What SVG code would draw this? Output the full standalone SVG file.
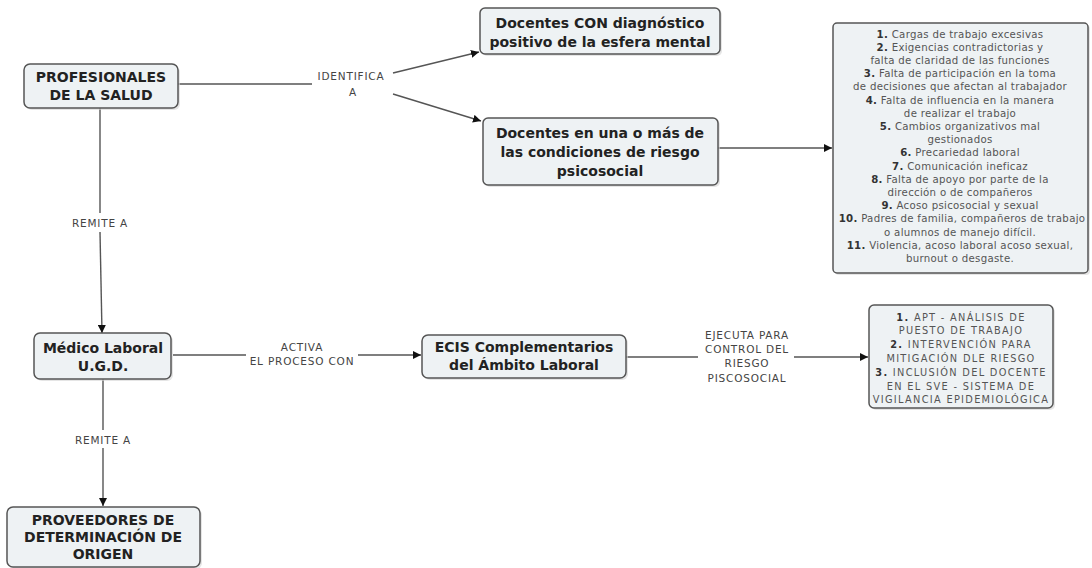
<svg xmlns="http://www.w3.org/2000/svg" width="1092" height="568" viewBox="0 0 1092 568">
<defs>
<style>
.box{fill:#eef2f4;stroke:#555;stroke-width:1.5}
.sh{fill:#d4d4d4;opacity:.6}
.nt{font-family:"DejaVu Sans",Verdana,sans-serif;font-weight:bold;font-size:14px;fill:#222;text-anchor:middle}
.lb{font-family:"DejaVu Sans",Verdana,sans-serif;font-size:10.5px;fill:#444;text-anchor:middle;letter-spacing:0.8px}
.ls{font-family:"DejaVu Sans",Verdana,sans-serif;font-size:10.2px;fill:#555;text-anchor:middle;letter-spacing:0.3px}
.ap{font-family:"DejaVu Sans",Verdana,sans-serif;font-size:9.8px;fill:#555;text-anchor:middle;letter-spacing:1.3px}
.b{font-weight:bold;fill:#333}
.ln{fill:none;stroke:#555;stroke-width:1.4}
</style>
<marker id="ar" viewBox="0 0 10 10" refX="10" refY="5" markerWidth="8" markerHeight="8" markerUnits="userSpaceOnUse" orient="auto">
<path d="M0,0 L10,5 L0,10 z" fill="#111"/>
</marker>
</defs>
<rect width="1092" height="568" fill="#fff"/>

<g id="connectors">
<path class="ln" d="M178,84 L312,84"/>
<path class="ln" d="M393,73 L479,52" marker-end="url(#ar)"/>
<path class="ln" d="M393,94 L481,121" marker-end="url(#ar)"/>
<path class="ln" d="M100,108 L100,213"/>
<path class="ln" d="M100,232 L102,333" marker-end="url(#ar)"/>
<path class="ln" d="M173,355 L246,355"/>
<path class="ln" d="M358,355 L421,355" marker-end="url(#ar)"/>
<path class="ln" d="M626,357 L698,357"/>
<path class="ln" d="M794,357 L868,357" marker-end="url(#ar)"/>
<path class="ln" d="M718,148 L832,148" marker-end="url(#ar)"/>
<path class="ln" d="M103,379 L103,430"/>
<path class="ln" d="M103,448 L103,506" marker-end="url(#ar)"/>
<text class="lb" x="351" y="80">IDENTIFICA</text>
<text class="lb" x="353" y="96">A</text>
<text class="lb" x="100" y="227">REMITE A</text>
<text class="lb" x="302" y="351">ACTIVA</text>
<text class="lb" x="302" y="365">EL PROCESO CON</text>
<text class="lb" x="747" y="339">EJECUTA PARA</text>
<text class="lb" x="747" y="353">CONTROL DEL</text>
<text class="lb" x="747" y="367">RIESGO</text>
<text class="lb" x="747" y="382">PISCOSOCIAL</text>
<text class="lb" x="103" y="444">REMITE A</text>
</g>

<g id="n-profesionales">
<rect class="sh" x="26" y="66" width="154" height="44" rx="6"/>
<rect class="box" x="24" y="64" width="154" height="44" rx="6"/>
<text class="nt" x="101" y="82">PROFESIONALES</text>
<text class="nt" x="101" y="100">DE LA SALUD</text>
</g>

<g id="n-docentes-con">
<rect class="sh" x="482" y="10" width="240" height="46" rx="5"/>
<rect class="box" x="480" y="8" width="240" height="46" rx="5"/>
<text class="nt" x="600" y="28">Docentes CON diagnóstico</text>
<text class="nt" x="600" y="47">positivo de la esfera mental</text>
</g>

<g id="n-docentes-riesgo">
<rect class="sh" x="485" y="120" width="235" height="67" rx="5"/>
<rect class="box" x="483" y="118" width="235" height="67" rx="5"/>
<text class="nt" x="600" y="138">Docentes en una o más de</text>
<text class="nt" x="600" y="157">las condiciones de riesgo</text>
<text class="nt" x="600" y="176">psicosocial</text>
</g>

<g id="n-lista">
<rect class="sh" x="835" y="25" width="255" height="250" rx="4"/>
<rect class="box" x="833" y="23" width="255" height="250" rx="4"/>
<text class="ls" x="960" y="37.5"><tspan class="b">1.</tspan> Cargas de trabajo excesivas</text>
<text class="ls" x="960" y="50.7"><tspan class="b">2.</tspan> Exigencias contradictorias y</text>
<text class="ls" x="960" y="63.9">falta de claridad de las funciones</text>
<text class="ls" x="960" y="77.1"><tspan class="b">3.</tspan> Falta de participación en la toma</text>
<text class="ls" x="960" y="90.3">de decisiones que afectan al trabajador</text>
<text class="ls" x="960" y="103.5"><tspan class="b">4.</tspan> Falta de influencia en la manera</text>
<text class="ls" x="960" y="116.7">de realizar el trabajo</text>
<text class="ls" x="960" y="129.9"><tspan class="b">5.</tspan> Cambios organizativos mal</text>
<text class="ls" x="960" y="143.1">gestionados</text>
<text class="ls" x="960" y="156.3"><tspan class="b">6.</tspan> Precariedad laboral</text>
<text class="ls" x="960" y="169.5"><tspan class="b">7.</tspan> Comunicación ineficaz</text>
<text class="ls" x="960" y="182.7"><tspan class="b">8.</tspan> Falta de apoyo por parte de la</text>
<text class="ls" x="960" y="195.9">dirección o de compañeros</text>
<text class="ls" x="960" y="209.1"><tspan class="b">9.</tspan> Acoso psicosocial y sexual</text>
<text class="ls" x="962" y="222.3"><tspan class="b">10.</tspan> Padres de familia, compañeros de trabajo</text>
<text class="ls" x="960" y="235.5">o alumnos de manejo difícil.</text>
<text class="ls" x="960" y="248.7"><tspan class="b">11.</tspan> Violencia, acoso laboral acoso sexual,</text>
<text class="ls" x="960" y="261.9">burnout o desgaste.</text>
</g>

<g id="n-medico">
<rect class="sh" x="36" y="335" width="137" height="46" rx="6"/>
<rect class="box" x="34" y="333" width="137" height="46" rx="6"/>
<text class="nt" x="103" y="353">Médico Laboral</text>
<text class="nt" x="103" y="371">U.G.D.</text>
</g>

<g id="n-ecis">
<rect class="sh" x="424" y="337" width="204" height="43" rx="6"/>
<rect class="box" x="422" y="335" width="204" height="43" rx="6"/>
<text class="nt" x="524" y="352">ECIS Complementarios</text>
<text class="nt" x="524" y="370">del Ámbito Laboral</text>
</g>

<g id="n-apt">
<rect class="sh" x="871" y="307" width="184" height="103" rx="5"/>
<rect class="box" x="869" y="305" width="184" height="103" rx="5"/>
<text class="ap" x="961" y="320.5"><tspan class="b">1.</tspan> APT - ANÁLISIS DE</text>
<text class="ap" x="961" y="334.3">PUESTO DE TRABAJO</text>
<text class="ap" x="961" y="348.1"><tspan class="b">2.</tspan> INTERVENCIÓN PARA</text>
<text class="ap" x="961" y="361.9">MITIGACIÓN DLE RIESGO</text>
<text class="ap" x="961" y="375.7"><tspan class="b">3.</tspan> INCLUSIÓN DEL DOCENTE</text>
<text class="ap" x="961" y="389.5">EN EL SVE - SISTEMA DE</text>
<text class="ap" x="961" y="403.3">VIGILANCIA EPIDEMIOLÓGICA</text>
</g>

<g id="n-proveedores">
<rect class="sh" x="9" y="509" width="193" height="60" rx="6"/>
<rect class="box" x="7" y="507" width="193" height="60" rx="6"/>
<text class="nt" x="103" y="525">PROVEEDORES DE</text>
<text class="nt" x="103" y="542">DETERMINACIÓN DE</text>
<text class="nt" x="103" y="559">ORIGEN</text>
</g>
</svg>
